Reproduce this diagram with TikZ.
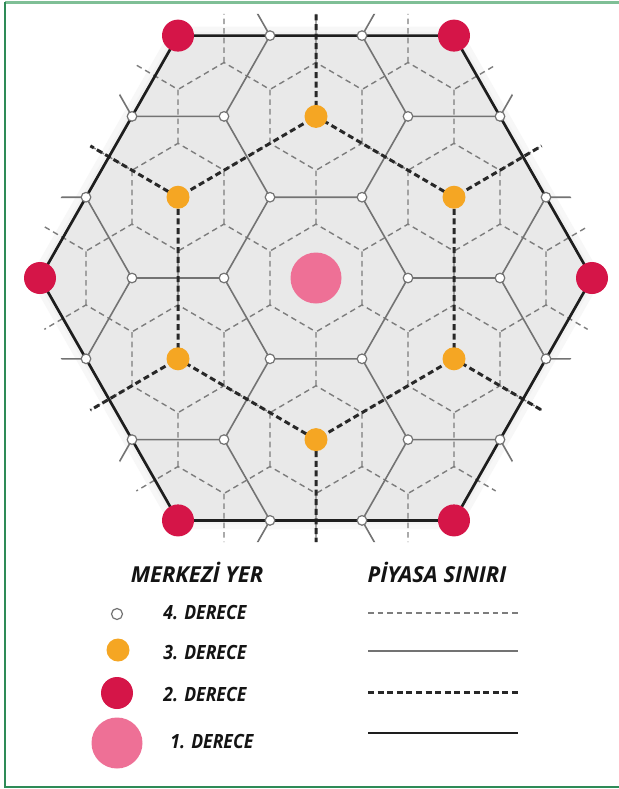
\documentclass[tikz,border=0pt]{standalone}
\usepackage{fontspec}
\setmainfont{Open Sans}
\definecolor{cfour}{RGB}{125,125,125}
\definecolor{cthree}{RGB}{115,115,115}
\definecolor{ctwo}{RGB}{40,40,40}
\definecolor{cone}{RGB}{30,30,30}
\definecolor{cfill}{RGB}{233,233,233}
\definecolor{cyel}{RGB}{245,166,35}
\definecolor{cred}{RGB}{213,21,72}
\definecolor{cpink}{RGB}{238,112,150}
\definecolor{gbright}{RGB}{127,191,150}
\definecolor{gbdark}{RGB}{46,139,87}
\begin{document}
\begin{tikzpicture}[x=0.5pt,y=-0.5pt,
  lvfour/.style={draw=cfour, line width=0.7pt, dash pattern=on 2.8pt off 2pt},
  lvthree/.style={draw=cthree, line width=0.8pt},
  lvtwo/.style={draw=ctwo, line width=1.5pt, dash pattern=on 3pt off 1.8pt},
  lvone/.style={draw=cone, line width=1.35pt, line join=round},
  wdot/.style={circle, fill=white, draw=cthree, line width=0.6pt, minimum size=4.8pt, inner sep=0pt},
  ydot/.style={circle, fill=cyel, minimum size=11.5pt, inner sep=0pt},
  rdot/.style={circle, fill=cred, minimum size=16pt, inner sep=0pt},
  pdot/.style={circle, fill=cpink, minimum size=25.5pt, inner sep=0pt},
  lbl/.style={font=\bfseries\itshape\fontsize{9.8}{12}\selectfont, text=black!92, inner sep=0pt, anchor=west},
  hdr/.style={font=\bfseries\itshape\fontsize{11}{12}\selectfont, text=black!92, inner sep=0pt}
]
\useasboundingbox (0,0) rectangle (619,789);
\fill[white] (0,0) rectangle (619,789);
% frame
\draw[gbright, line width=1.5pt] (5,2) -- (619,2);
\draw[gbdark, line width=0.6pt] (5,2) -- (5,787) -- (619,787);

\begin{scope}[shift={(316,278)}, x=46pt, y=46.65pt]
  % soft halo and fill
  \draw[black!3, line width=9pt, line join=round] (0:3)--(60:3)--(120:3)--(180:3)--(240:3)--(300:3)--cycle;
  \draw[black!5, line width=4pt, line join=round] (0:3)--(60:3)--(120:3)--(180:3)--(240:3)--(300:3)--cycle;
  \fill[cfill] (0:3)--(60:3)--(120:3)--(180:3)--(240:3)--(300:3)--cycle;
  \begin{scope}
    \clip (0:3.27)--(60:3.27)--(120:3.27)--(180:3.27)--(240:3.27)--(300:3.27)--cycle;
    % 4th order market areas
    \foreach \j in {-5,...,5} {
      \foreach \i in {-7,...,7} {
        \pgfmathsetmacro\cx{\i+0.5*\j}
        \pgfmathsetmacro\cy{0.8660254*\j}
        \draw[lvfour, shift={(\cx,\cy)}]
          (-30:0.57735) -- (30:0.57735) -- (90:0.57735) -- (150:0.57735);
      }
    }
    % 3rd order market areas
    \foreach \a in {-4,...,4} {
      \foreach \b in {-5,...,5} {
        \pgfmathsetmacro\cx{1.5*\a}
        \pgfmathsetmacro\cy{0.8660254*\a+1.7320508*\b}
        \draw[lvthree, shift={(\cx,\cy)}]
          (0:1) -- (60:1) -- (120:1) -- (180:1);
      }
    }
    % 2nd order market areas
    \foreach \a in {-3,...,3} {
      \foreach \b in {-2,...,2} {
        \pgfmathsetmacro\cx{3*\a+1.5*\b}
        \pgfmathsetmacro\cy{2.5980762*\b}
        \draw[lvtwo, shift={(\cx,\cy)}]
          (-30:1.7320508) -- (30:1.7320508) -- (90:1.7320508) -- (150:1.7320508);
      }
    }
  \end{scope}
  % 1st order market area
  \draw[lvone] (0:3)--(60:3)--(120:3)--(180:3)--(240:3)--(300:3)--cycle;
  % 4th order centres
  \foreach \px/\py [count=\n] in {0.5/2.5980762,-0.5/2.5980762,0.5/-2.5980762,-0.5/-2.5980762,
      1/1.7320508,2/1.7320508,-1/1.7320508,-2/1.7320508,
      1/-1.7320508,2/-1.7320508,-1/-1.7320508,-2/-1.7320508,
      0.5/0.8660254,2.5/0.8660254,-0.5/0.8660254,-2.5/0.8660254,
      0.5/-0.8660254,2.5/-0.8660254,-0.5/-0.8660254,-2.5/-0.8660254,
      1/0,2/0,-1/0,-2/0} {
    \node[wdot] (w\n) at (\px,\py) {};
  }
  % 3rd order centres
  \foreach \px/\py [count=\n] in {0/1.7320508,1.5/0.8660254,1.5/-0.8660254,0/-1.7320508,-1.5/-0.8660254,-1.5/0.8660254} {
    \node[ydot] (y\n) at (\px,\py) {};
  }
  % 2nd order centres
  \foreach \px/\py [count=\n] in {3/0,1.5/2.5980762,-1.5/2.5980762,-3/0,-1.5/-2.5980762,1.5/-2.5980762} {
    \node[rdot] (r\n) at (\px,\py) {};
  }
  % 1st order centre
  \node[pdot] (p1) at (0,0) {};
\end{scope}

% legend
\node[hdr] (hA) at (197,572) {MERKEZİ YER};
\node[hdr] (hB) at (437,572) {PİYASA SINIRI};

\node[wdot, minimum size=5.5pt] (lw) at (117,614) {};
\node[ydot] (ly) at (118,650) {};
\node[rdot] (lr) at (117,693) {};
\node[pdot] (lp) at (117,743) {};

\node[lbl] (t4) at (163,613) {\scalebox{0.9}[1]{4. DERECE}};
\node[lbl] (t3) at (163,653) {\scalebox{0.9}[1]{3. DERECE}};
\node[lbl] (t2) at (163,695) {\scalebox{0.9}[1]{2. DERECE}};
\node[lbl] (t1) at (170,742) {\scalebox{0.9}[1]{1. DERECE}};

\coordinate (a4) at (368,613); \coordinate (b4) at (518,613);
\coordinate (a3) at (368,651); \coordinate (b3) at (518,651);
\coordinate (a2) at (368,692); \coordinate (b2) at (518,692);
\coordinate (a1) at (368,733); \coordinate (b1) at (518,733);
\draw[lvfour] (a4) -- (b4);
\draw[lvthree] (a3) -- (b3);
\draw[lvtwo] (a2) -- (b2);
\draw[lvone] (a1) -- (b1);
\end{tikzpicture}
\end{document}
